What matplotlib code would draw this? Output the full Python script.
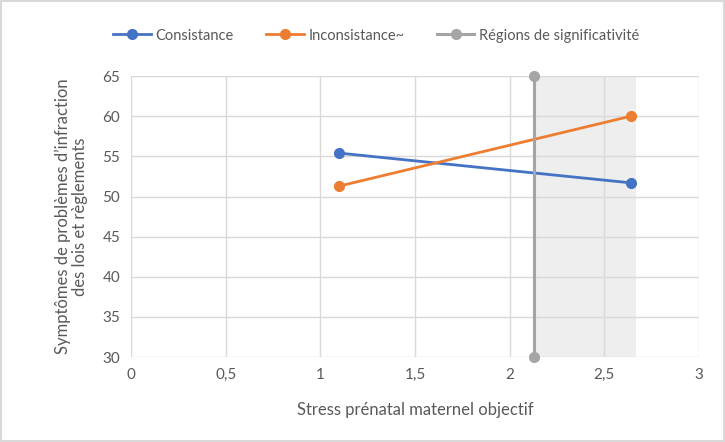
import matplotlib
matplotlib.use('Agg')
import matplotlib.pyplot as plt
from matplotlib.patches import Rectangle

plt.rcParams['font.family'] = ['Lato', 'DejaVu Sans']

# data
x_pts = [1.1, 2.64]
consistance = [55.4, 51.7]
inconsistance = [51.3, 60.0]
region_x = [2.13, 2.13]
region_y = [30, 65]
shade_from, shade_to = 2.13, 2.67

xticks = [0, 0.5, 1, 1.5, 2, 2.5, 3]
xtick_labels = ['0', '0,5', '1', '1,5', '2', '2,5', '3']
yticks = [30, 35, 40, 45, 50, 55, 60, 65]

fig = plt.figure(figsize=(7.25, 4.42), dpi=100)
fig.patch.set_edgecolor('#d9d9d9')
fig.patch.set_linewidth(1.5)
ax = fig.add_axes([0.181, 0.192, 0.783, 0.636])

ax.add_patch(Rectangle((shade_from, 30), shade_to - shade_from, 35,
                       facecolor='#eeeeee', edgecolor='none', zorder=0))

ax.plot(x_pts, consistance, '-o', color='#4472c4', lw=2, ms=7, label='Consistance',
        zorder=3, clip_on=False)
ax.plot(x_pts, inconsistance, '-o', color='#ed7d31', lw=2, ms=7, label='Inconsistance~',
        zorder=3, clip_on=False)
ax.plot(region_x, region_y, '-o', color='#a5a5a5', lw=2.2, ms=7,
        label='Régions de significativité', zorder=3, clip_on=False)

ax.set_xlim(0, 3)
ax.set_ylim(30, 65)
ax.set_xticks(xticks)
ax.set_xticklabels(xtick_labels)
ax.set_yticks(yticks)
ax.grid(True, color='#d9d9d9', lw=1)
ax.set_axisbelow(True)
for s in ax.spines.values():
    s.set_visible(False)
ax.tick_params(length=0, labelsize=11, colors='#595959', pad=8)

ax.set_xlabel('Stress prénatal maternel objectif', fontsize=12, color='#595959', labelpad=14)
ax.set_ylabel("Symptômes de problèmes d’infraction\ndes lois et règlements",
              fontsize=12, color='#595959', labelpad=10, linespacing=1.1)

fig.legend(loc='upper center', bbox_to_anchor=(0.519, 0.965), ncol=3, frameon=False,
           fontsize=10.5, labelcolor='#595959', handlelength=2.6, columnspacing=2.2,
           handletextpad=0.3)

fig.savefig('out.png', dpi=100)
